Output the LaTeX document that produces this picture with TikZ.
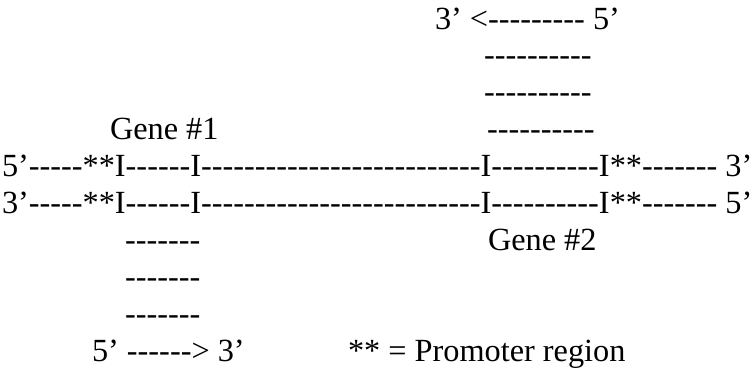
\documentclass[tikz,border=0pt]{standalone}
\usepackage{fontspec}
\setmainfont{Liberation Serif}[Ligatures=TeXOff,Kerning=Off]
\begin{document}
\begin{tikzpicture}[x=1pt,y=-1pt,
  row/.style={anchor=base west,inner sep=0pt,outer sep=0pt,
    font=\fontsize{32.3}{37}\selectfont}]
\useasboundingbox (0,0) rectangle (756,370);
% upper strand copy, running right to left
\node[row] (top)   at (435,29)    {3’ <--------- 5’};
\node[row] (ta)    at (484,65.9)  {----------};
\node[row] (tb)    at (484,102.8) {----------};
\node[row] (tc)    at (487,139.7) {----------};
\node[row] (gene1) at (110,139.7) {Gene \#1};
% the double strand with both genes
\node[row] (plus)  at (2,176.6) {5’-----**I------I--------------------------I----------I**------- 3’};
\node[row] (minus) at (2,213.5) {3’-----**I------I--------------------------I----------I**------- 5’};
\node[row] (gene2) at (488,250.4) {Gene \#2};
% lower strand copy, running left to right
\node[row] (ba)    at (125,250.4) {-------};
\node[row] (bb)    at (125,287.3) {-------};
\node[row] (bc)    at (125,324.2) {-------};
\node[row] (bot)   at (92,361.1)  {5’ ------> 3’};
\node[row] (key)   at (348,361.1) {** = Promoter region};
\end{tikzpicture}
\end{document}
